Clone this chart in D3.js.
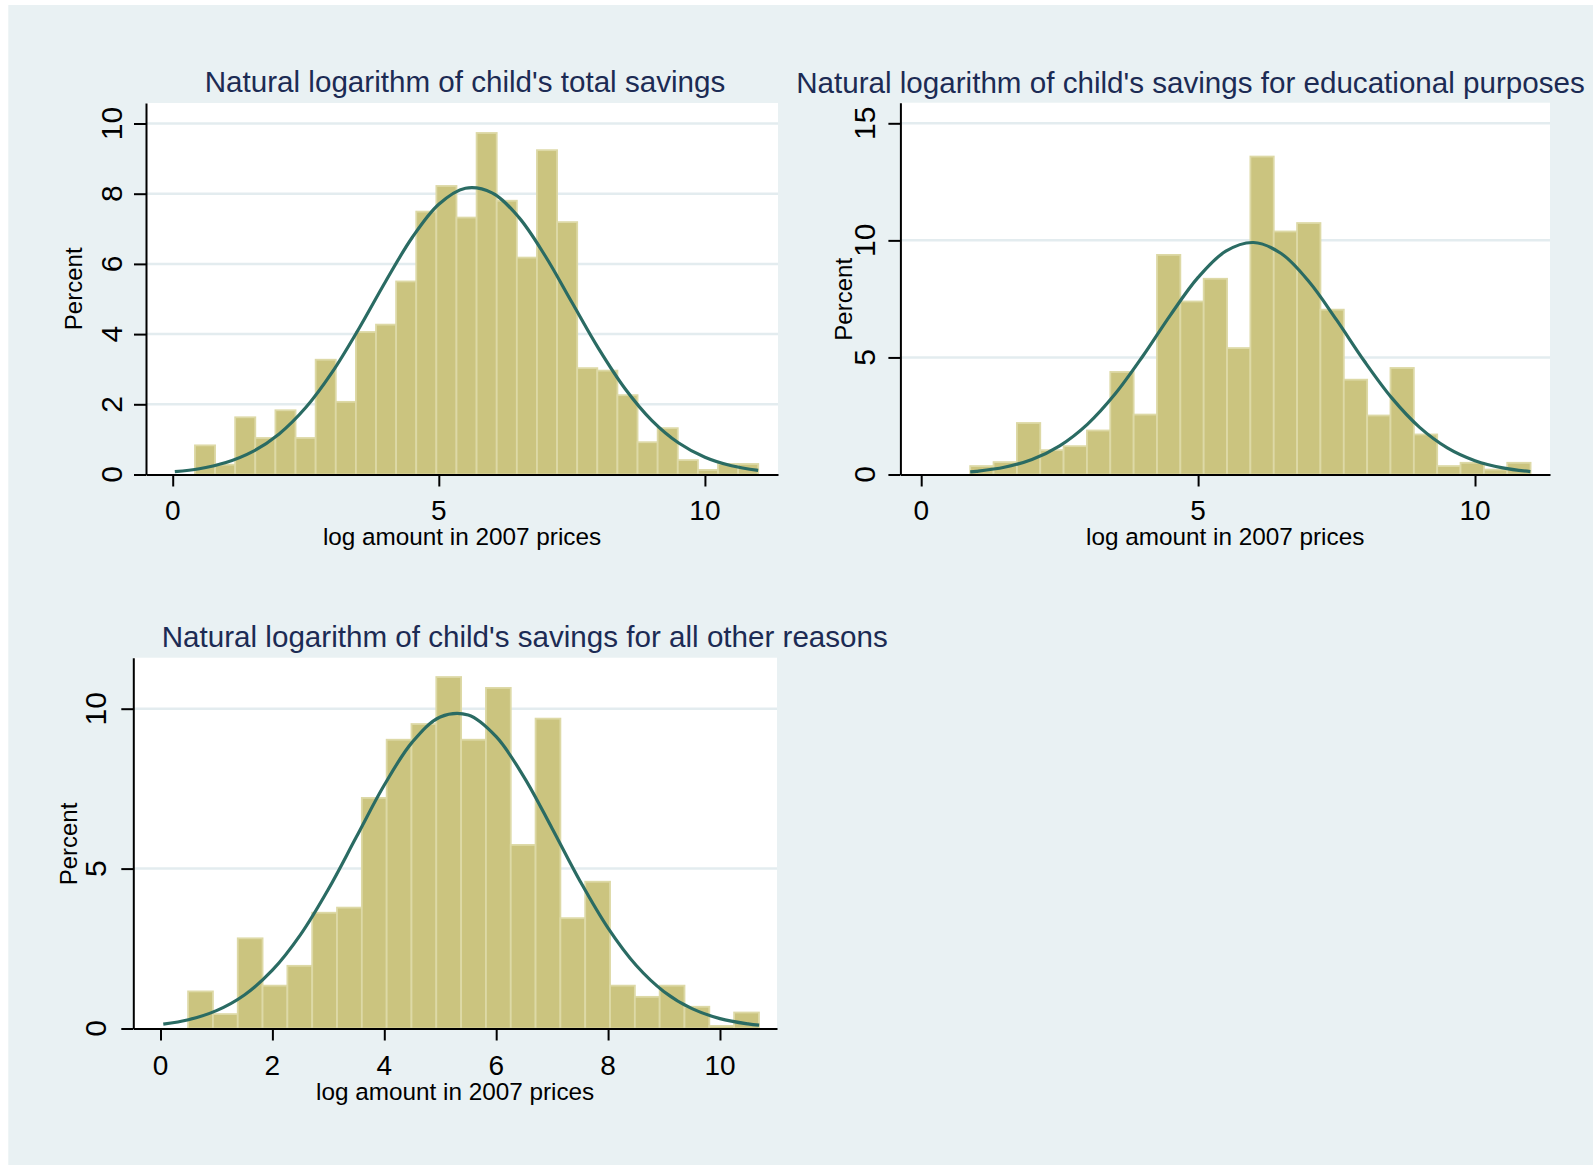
<!DOCTYPE html>
<html><head><meta charset="utf-8">
<script src="https://cdn.jsdelivr.net/npm/d3@7/dist/d3.min.js"></script>
<style>html,body{margin:0;padding:0;background:#fff}svg{display:block}</style>
</head><body><svg id="chart" width="1593" height="1165"></svg>
<script>
// ---------- DATA ----------
const panelTitles = [
  "Natural logarithm of child's total savings",
  "Natural logarithm of child's savings for educational purposes",
  "Natural logarithm of child's savings for all other reasons"
];
const xAxisTitle = "log amount in 2007 prices";
const yAxisTitle = "Percent";

// Panel 1: total savings
const totalBinStart = 0.04;
const totalBinWidth = 0.378;
const totalPercent = [0, 0.83, 0.28, 1.63, 1.04, 1.83, 1.04, 3.27, 2.07, 4.06, 4.27, 5.5, 7.49, 8.22, 7.32, 9.73, 7.8, 6.18, 9.24, 7.19, 3.03, 2.96, 2.26, 0.92, 1.32, 0.41, 0.13, 0.3, 0.3];
const totalCurveX = [0.04, 0.5, 1, 1.5, 2, 2.5, 3, 3.5, 4, 4.5, 5, 5.5, 6, 6.5, 7, 7.5, 8, 8.5, 9, 9.5, 10, 10.5, 11];
const totalCurveY = [0.08, 0.165, 0.34, 0.651, 1.156, 1.907, 2.923, 4.16, 5.499, 6.752, 7.7, 8.156, 8.025, 7.333, 6.225, 4.908, 3.594, 2.444, 1.544, 0.906, 0.494, 0.25, 0.118];
const totalXTicks = [0, 5, 10];
const totalYTicks = [0, 2, 4, 6, 8, 10];

// Panel 2: educational purposes
const eduBinStart = 0.885;
const eduBinWidth = 0.4216;
const eduPercent = [0.36, 0.53, 2.2, 1.04, 1.21, 1.88, 4.38, 2.56, 9.38, 7.39, 8.36, 5.4, 13.58, 10.38, 10.74, 7.04, 4.05, 2.52, 4.55, 1.71, 0.36, 0.5, 0.21, 0.5];
const eduCurveX = [0.885, 1, 1.5, 2, 2.5, 3, 3.5, 4, 4.5, 5, 5.5, 6, 6.5, 7, 7.5, 8, 8.5, 9, 9.5, 10, 10.5, 11];
const eduCurveY = [0.111, 0.136, 0.309, 0.642, 1.225, 2.143, 3.436, 5.052, 6.81, 8.417, 9.538, 9.908, 9.438, 8.243, 6.601, 4.846, 3.261, 2.013, 1.139, 0.591, 0.281, 0.122];
const eduXTicks = [0, 5, 10];
const eduYTicks = [0, 5, 10, 15];

// Panel 3: all other reasons
const otherBinStart = 0.05;
const otherBinWidth = 0.4436;
const otherPercent = [0, 1.16, 0.45, 2.82, 1.34, 1.96, 3.62, 3.78, 7.21, 9.03, 9.52, 10.99, 9.03, 10.65, 5.74, 9.69, 3.45, 4.59, 1.34, 0.99, 1.34, 0.68, 0.08, 0.5];
const otherCurveX = [0.05, 0.5, 1, 1.5, 2, 2.5, 3, 3.5, 4, 4.5, 5, 5.5, 6, 6.5, 7, 7.5, 8, 8.5, 9, 9.5, 10, 10.5, 10.7];
const otherCurveY = [0.136, 0.275, 0.559, 1.049, 1.823, 2.929, 4.355, 5.986, 7.613, 8.954, 9.741, 9.802, 9.124, 7.854, 6.254, 4.606, 3.138, 1.977, 1.152, 0.621, 0.31, 0.143, 0.103];
const otherXTicks = [0, 2, 4, 6, 8, 10];
const otherYTicks = [0, 5, 10];

// ---------- LAYOUT / STYLE ----------
const FONT = "'Liberation Sans', Arial, Helvetica, sans-serif";
const BG = "#e9f1f3";
const GRID = "#e3ecef";
const BAR_FILL = "#cbc47f";
const BAR_STROKE = "#ddd9a6";
const CURVE = "#2a6b63";
const TITLE_COLOR = "#1c2b54";

const panels = [
  {title: panelTitles[0], start: totalBinStart, width: totalBinWidth, pct: totalPercent,
   cx: totalCurveX, cy: totalCurveY, xt: totalXTicks, yt: totalYTicks,
   left: 146, right: 778, top: 103, bottom: 474.5,
   xDom: [-0.5017, 11.373], yDom: [0, 10.584],
   titleX: 465, titleY: 91.7, yLabX: 121.7, pctX: 81.7, pctY: 288.8, tickY: 520, axTitleY: 545},
  {title: panelTitles[1], start: eduBinStart, width: eduBinWidth, pct: eduPercent,
   cx: eduCurveX, cy: eduCurveY, xt: eduXTicks, yt: eduYTicks,
   left: 900.4, right: 1550, top: 102.7, bottom: 474.5,
   xDom: [-0.3756, 11.354], yDom: [0, 15.88],
   titleX: 1190.5, titleY: 93.3, yLabX: 875, pctX: 851.7, pctY: 299.3, tickY: 520, axTitleY: 545},
  {title: panelTitles[2], start: otherBinStart, width: otherBinWidth, pct: otherPercent,
   cx: otherCurveX, cy: otherCurveY, xt: otherXTicks, yt: otherYTicks,
   left: 133.3, right: 777, top: 657.7, bottom: 1028.5,
   xDom: [-0.486, 11.019], yDom: [0, 11.595],
   titleX: 524.8, titleY: 646.5, yLabX: 105.7, pctX: 77, pctY: 844, tickY: 1075, axTitleY: 1100}
];

const svg = d3.select("#chart");
svg.append("rect").attr("x", 8.3).attr("y", 5).attr("width", 1593 - 8.3).attr("height", 1165 - 5).attr("fill", BG);

panels.forEach(p => {
  const x = d3.scaleLinear().domain(p.xDom).range([p.left, p.right]);
  const y = d3.scaleLinear().domain(p.yDom).range([p.bottom, p.top]);
  const g = svg.append("g");

  g.append("rect").attr("x", p.left).attr("y", p.top)
    .attr("width", p.right - p.left).attr("height", p.bottom - p.top).attr("fill", "#fff");

  g.selectAll(".grid").data(p.yt.filter(t => t > 0)).join("line")
    .attr("x1", p.left).attr("x2", p.right)
    .attr("y1", d => y(d)).attr("y2", d => y(d))
    .attr("stroke", GRID).attr("stroke-width", 2.5);

  const bins = p.pct.map((v, i) => ({x0: p.start + i * p.width, x1: p.start + (i + 1) * p.width, v}));
  g.selectAll(".bar").data(bins.filter(b => b.v > 0)).join("rect")
    .attr("x", b => x(b.x0)).attr("width", b => x(b.x1) - x(b.x0))
    .attr("y", b => y(b.v)).attr("height", b => y(0) - y(b.v))
    .attr("fill", BAR_FILL).attr("stroke", BAR_STROKE).attr("stroke-width", 1.8);

  const pts = p.cx.map((v, i) => [v, p.cy[i]]);
  g.append("path").datum(pts)
    .attr("d", d3.line().x(d => x(d[0])).y(d => y(d[1])).curve(d3.curveCatmullRom.alpha(0.5)))
    .attr("fill", "none").attr("stroke", CURVE).attr("stroke-width", 3.2);

  const yAx = g.append("g").attr("transform", `translate(${p.left},0)`)
    .call(d3.axisLeft(y).tickValues(p.yt).tickSize(12).tickSizeOuter(0).tickFormat(""));
  const xAx = g.append("g").attr("transform", `translate(0,${p.bottom})`)
    .call(d3.axisBottom(x).tickValues(p.xt).tickSize(12).tickSizeOuter(0).tickFormat(""));
  [yAx, xAx].forEach(a => {
    a.select(".domain").attr("stroke", "#000").attr("stroke-width", 2);
    a.selectAll(".tick line").attr("stroke", "#000").attr("stroke-width", 2);
  });

  g.selectAll(".ylab").data(p.yt).join("text")
    .attr("transform", d => `translate(${p.yLabX},${y(d)}) rotate(-90)`)
    .attr("text-anchor", "middle").attr("font-family", FONT).attr("font-size", 30)
    .attr("fill", "#000").text(d => d);

  g.selectAll(".xlab").data(p.xt).join("text")
    .attr("x", d => x(d)).attr("y", p.tickY)
    .attr("text-anchor", "middle").attr("font-family", FONT).attr("font-size", 28)
    .attr("fill", "#000").text(d => d);

  g.append("text").attr("x", (p.left + p.right) / 2).attr("y", p.axTitleY)
    .attr("text-anchor", "middle").attr("font-family", FONT).attr("font-size", 24.3)
    .attr("fill", "#000").text(xAxisTitle);
  g.append("text").attr("transform", `translate(${p.pctX},${p.pctY}) rotate(-90)`)
    .attr("text-anchor", "middle").attr("font-family", FONT).attr("font-size", 24)
    .attr("fill", "#000").text(yAxisTitle);

  g.append("text").attr("x", p.titleX).attr("y", p.titleY)
    .attr("text-anchor", "middle").attr("font-family", FONT).attr("font-size", 29.6)
    .attr("fill", TITLE_COLOR).text(p.title);
});
</script>
</body></html>
